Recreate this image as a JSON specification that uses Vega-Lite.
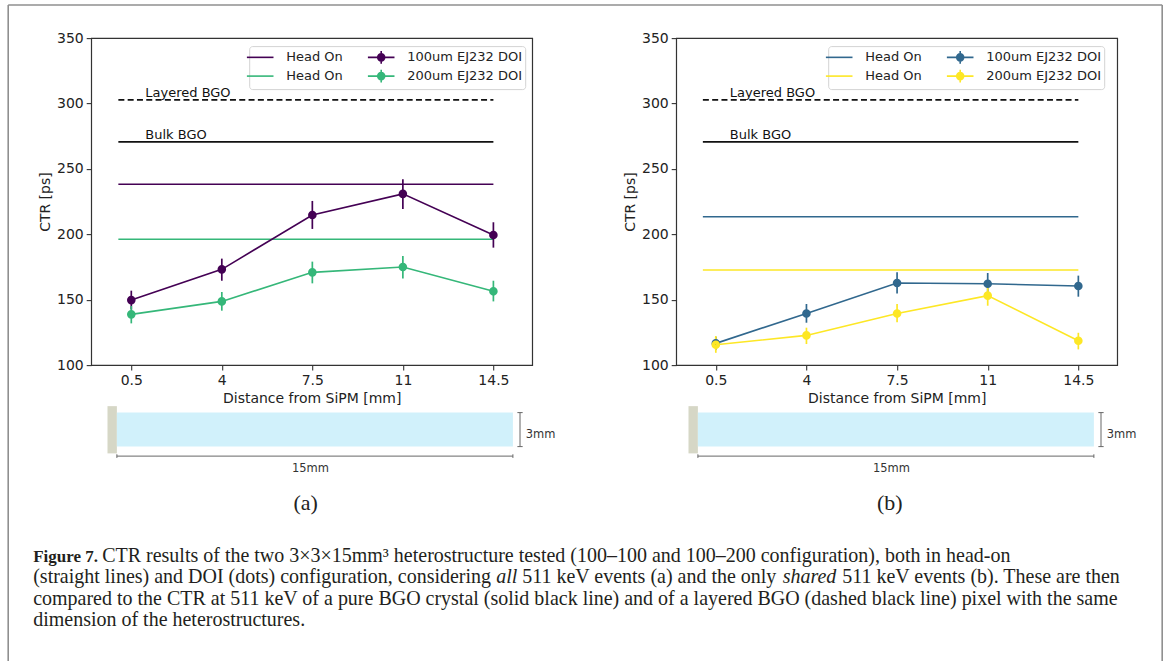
{
  "$schema": "https://vega.github.io/schema/vega-lite/v6.json",
  "background": "white",
  "padding": {"left": 7.2, "top": 4.1, "right": 0, "bottom": 0},
  "columns": 2,
  "align": "each",
  "bounds": "flush",
  "spacing": {"row": 30, "column": 144},
  "resolve": {
    "scale": {"color": "shared", "strokeDash": "shared", "fill": "shared"},
    "legend": {"color": "independent", "strokeDash": "independent"}
  },
  "datasets": {
    "bgo": [
      {"kind": "Layered BGO", "y": 302.8, "x0": 0, "x1": 14.5},
      {"kind": "Bulk BGO", "y": 270.7, "x0": 0, "x1": 14.5}
    ],
    "headonA": [
      {"series": "h1a", "y": 238.3, "x0": 0, "x1": 14.5},
      {"series": "h2a", "y": 196.2, "x0": 0, "x1": 14.5}
    ],
    "headonB": [
      {"series": "h1b", "y": 213.5, "x0": 0, "x1": 14.5},
      {"series": "h2b", "y": 172.7, "x0": 0, "x1": 14.5}
    ],
    "doiA": [
      {"series": "d1a", "x": 0.5, "y": 149.7, "lo": 142.6, "hi": 156.9},
      {"series": "d1a", "x": 4, "y": 173.2, "lo": 164.5, "hi": 181.4},
      {"series": "d1a", "x": 7.5, "y": 214.8, "lo": 204.1, "hi": 225.5},
      {"series": "d1a", "x": 11, "y": 230.9, "lo": 219.4, "hi": 242.1},
      {"series": "d1a", "x": 14.5, "y": 199.5, "lo": 189.8, "hi": 209.2},
      {"series": "d2a", "x": 0.5, "y": 138.8, "lo": 131.9, "hi": 145.2},
      {"series": "d2a", "x": 4, "y": 148.7, "lo": 141.6, "hi": 155.9},
      {"series": "d2a", "x": 7.5, "y": 170.9, "lo": 162.5, "hi": 179.1},
      {"series": "d2a", "x": 11, "y": 175.0, "lo": 166.3, "hi": 183.4},
      {"series": "d2a", "x": 14.5, "y": 156.4, "lo": 148.7, "hi": 164.5}
    ],
    "doiB": [
      {"series": "d1b", "x": 0.5, "y": 116.6, "lo": 111.5, "hi": 121.7},
      {"series": "d1b", "x": 4, "y": 139.5, "lo": 132.4, "hi": 146.7},
      {"series": "d1b", "x": 7.5, "y": 162.8, "lo": 154.8, "hi": 170.9},
      {"series": "d1b", "x": 11, "y": 162.2, "lo": 153.6, "hi": 170.4},
      {"series": "d1b", "x": 14.5, "y": 160.5, "lo": 152.3, "hi": 168.4},
      {"series": "d2b", "x": 0.5, "y": 115.6, "lo": 109.4, "hi": 122.2},
      {"series": "d2b", "x": 4, "y": 122.7, "lo": 116.1, "hi": 128.6},
      {"series": "d2b", "x": 7.5, "y": 139.5, "lo": 132.7, "hi": 146.7},
      {"series": "d2b", "x": 11, "y": 153.1, "lo": 145.4, "hi": 159.9},
      {"series": "d2b", "x": 14.5, "y": 118.6, "lo": 112.0, "hi": 124.7}
    ],
    "legendA": [{"series": "h1a"}, {"series": "h2a"}, {"series": "d1a"}, {"series": "d2a"}],
    "legendB": [{"series": "h1b"}, {"series": "h2b"}, {"series": "d1b"}, {"series": "d2b"}],
    "diagShapes": [
      {"part": "SiPM", "x0": -0.356, "x1": 0, "y0": -0.6, "y1": 3.57},
      {"part": "crystal", "x0": 0, "x1": 15, "y0": 0, "y1": 3}
    ],
    "diagLines": [
      {"x0": 0, "x1": 15, "y0": -0.84, "y1": -0.84},
      {"x0": 0, "x1": 0, "y0": -0.68, "y1": -1.0},
      {"x0": 15, "x1": 15, "y0": -0.68, "y1": -1.0},
      {"x0": 15.27, "x1": 15.27, "y0": 0, "y1": 3},
      {"x0": 15.17, "x1": 15.37, "y0": 0, "y1": 0},
      {"x0": 15.17, "x1": 15.37, "y0": 3, "y1": 3}
    ],
    "diagText": [
      {"label": "15mm", "x": 7.33, "y": -1.95},
      {"label": "3mm", "x": 16.05, "y": 1.0}
    ],
    "frame": [
      {"x0": 0, "x1": 0, "y0": -25.11, "y1": 5.9},
      {"x0": 100, "x1": 100, "y0": -25.11, "y1": 5.9},
      {"x0": 0, "x1": 100, "y0": -25.11, "y1": -25.11}
    ],
    "capRegular": [
      {"t": "CTR results of the two  3×3×15mm³ heterostructure tested (100–100 and 100–200 configuration), both in head-on", "x": 8.146, "line": 1},
      {"t": "(straight lines) and DOI (dots) configuration, considering", "x": 2.166, "line": 2},
      {"t": "511 keV events (a) and the only", "x": 44.54, "line": 2},
      {"t": "511 keV events (b). These are then", "x": 72.27, "line": 2},
      {"t": "compared to the CTR at 511 keV of a pure BGO crystal (solid black line) and of a layered BGO (dashed black line) pixel with the same", "x": 2.166, "line": 3},
      {"t": "dimension of the heterostructures.", "x": 2.166, "line": 4}
    ],
    "capBold": [
      {"t": "Figure 7.", "x": 2.166, "line": 1}
    ],
    "capItalic": [
      {"t": "all", "x": 42.29, "line": 2},
      {"t": "shared", "x": 67.11, "line": 2}
    ]
  },
  "concat": [
    {
      "width": 441,
      "height": 327,
      "view": {"stroke": "#333", "strokeWidth": 1.2},
      "layer": [
        {
          "data": {"name": "legendA"},
          "mark": {"type": "line", "opacity": 0},
          "encoding": {
            "x": {"datum": 7.5, "type": "quantitative", "title": "Distance from SiPM [mm]",
                  "scale": {"domain": [-1.05, 16.0], "nice": false, "zero": false},
                  "axis": {"values": [0.5, 4, 7.5, 11, 14.5], "format": ".3~g"}},
            "y": {"datum": 200, "type": "quantitative", "title": "CTR [ps]",
                  "scale": {"domain": [100, 350], "nice": false, "zero": false},
                  "axis": {"values": [100, 150, 200, 250, 300, 350]}},
            "color": {
              "field": "series", "type": "nominal",
              "scale": {"domain": ["h1a", "d1a", "h2a", "d2a", "h1b", "d1b", "h2b", "d2b"],
                        "range": ["#440154", "#440154", "#35b779", "#35b779", "#31688e", "#31688e", "#fde725", "#fde725"]},
              "legend": {"values": ["h1a", "h2a", "d1a", "d2a"], "title": null, "orient": "none", "legendX": 158, "legendY": 8, "columns": 2,
                "labelExpr": "substring(datum.value,0,1) == 'h' ? 'Head On' : (substring(datum.value,1,2) == '1' ? '100um EJ232 DOI' : '200um EJ232 DOI')",
                "symbolType": "M-1.9,0L1.9,0L0.5,0A0.5,0.5,0,1,1,-0.5,0A0.5,0.5,0,1,1,0.5,0L0.33,0A0.33,0.33,0,1,1,-0.33,0A0.33,0.33,0,1,1,0.33,0L0.17,0A0.17,0.17,0,1,1,-0.17,0A0.17,0.17,0,1,1,0.17,0L0,0L0,-0.9L0,0.9",
                "symbolSize": 196, "symbolStrokeWidth": 1.6, "symbolOpacity": 1, "symbolFillColor": "transparent",
                "labelOffset": 18, "columnPadding": 21, "rowPadding": -1, "padding": 3,
                "strokeColor": "#d3d3d3", "fillColor": "#ffffff", "cornerRadius": 3,
                "labelFont": "DejaVu Sans", "labelFontSize": 13, "labelColor": "#222"}
            },
            "strokeDash": {
              "field": "series", "type": "nominal",
              "scale": {"domain": ["h1a", "d1a", "h2a", "d2a", "h1b", "d1b", "h2b", "d2b"],
                        "range": [[26.6, 3000], [3000, 1], [26.6, 3000], [3000, 1], [26.6, 3000], [3000, 1], [26.6, 3000], [3000, 1]]},
              "legend": {"values": ["h1a", "h2a", "d1a", "d2a"], "title": null, "orient": "none", "legendX": 158, "legendY": 8, "columns": 2,
                "labelExpr": "substring(datum.value,0,1) == 'h' ? 'Head On' : (substring(datum.value,1,2) == '1' ? '100um EJ232 DOI' : '200um EJ232 DOI')",
                "symbolType": "M-1.9,0L1.9,0L0.5,0A0.5,0.5,0,1,1,-0.5,0A0.5,0.5,0,1,1,0.5,0L0.33,0A0.33,0.33,0,1,1,-0.33,0A0.33,0.33,0,1,1,0.33,0L0.17,0A0.17,0.17,0,1,1,-0.17,0A0.17,0.17,0,1,1,0.17,0L0,0L0,-0.9L0,0.9",
                "symbolSize": 196, "symbolStrokeWidth": 1.6, "symbolOpacity": 1, "symbolFillColor": "transparent",
                "labelOffset": 18, "columnPadding": 21, "rowPadding": -1, "padding": 3,
                "strokeColor": "#d3d3d3", "fillColor": "#ffffff", "cornerRadius": 3,
                "labelFont": "DejaVu Sans", "labelFontSize": 13, "labelColor": "#222"}
            }
          }
        },
        {
          "data": {"name": "bgo"},
          "transform": [{"filter": "datum.kind == 'Layered BGO'"}],
          "mark": {"type": "rule", "color": "#111", "strokeWidth": 1.8, "strokeDash": [6, 3.3]},
          "encoding": {
            "x": {"field": "x0", "type": "quantitative", "title": "Distance from SiPM [mm]"},
            "x2": {"field": "x1"},
            "y": {"field": "y", "type": "quantitative", "title": "CTR [ps]"}
          }
        },
        {
          "data": {"name": "bgo"},
          "transform": [{"filter": "datum.kind == 'Bulk BGO'"}],
          "mark": {"type": "rule", "color": "#111", "strokeWidth": 1.8},
          "encoding": {
            "x": {"field": "x0", "type": "quantitative", "title": "Distance from SiPM [mm]"},
            "x2": {"field": "x1"},
            "y": {"field": "y", "type": "quantitative", "title": "CTR [ps]"}
          }
        },
        {
          "data": {"name": "bgo"},
          "mark": {"type": "text", "align": "left", "baseline": "bottom", "dx": 27, "font": "DejaVu Sans", "fontSize": 13, "color": "#111"},
          "encoding": {
            "x": {"field": "x0", "type": "quantitative", "title": "Distance from SiPM [mm]"},
            "y": {"field": "y", "type": "quantitative", "title": "CTR [ps]"},
            "text": {"field": "kind"}
          }
        },
        {
          "data": {"name": "headonA"},
          "mark": {"type": "rule", "strokeWidth": 1.5},
          "encoding": {
            "x": {"field": "x0", "type": "quantitative", "title": "Distance from SiPM [mm]"},
            "x2": {"field": "x1"},
            "y": {"field": "y", "type": "quantitative", "title": "CTR [ps]"},
            "color": {"field": "series", "type": "nominal"}
          }
        },
        {
          "data": {"name": "doiA"},
          "mark": {"type": "line", "strokeWidth": 1.6},
          "encoding": {
            "x": {"field": "x", "type": "quantitative", "title": "Distance from SiPM [mm]"},
            "y": {"field": "y", "type": "quantitative", "title": "CTR [ps]"},
            "color": {"field": "series", "type": "nominal"}
          }
        },
        {
          "data": {"name": "doiA"},
          "mark": {"type": "rule", "strokeWidth": 1.7},
          "encoding": {
            "x": {"field": "x", "type": "quantitative", "title": "Distance from SiPM [mm]"},
            "y": {"field": "lo", "type": "quantitative", "title": "CTR [ps]"},
            "y2": {"field": "hi"},
            "color": {"field": "series", "type": "nominal"}
          }
        },
        {
          "data": {"name": "doiA"},
          "mark": {"type": "point", "filled": false, "size": 16, "strokeWidth": 4.6, "opacity": 1, "shape": "circle"},
          "encoding": {
            "x": {"field": "x", "type": "quantitative", "title": "Distance from SiPM [mm]"},
            "y": {"field": "y", "type": "quantitative", "title": "CTR [ps]"},
            "color": {"field": "series", "type": "nominal"}
          }
        }
      ]
    },
    {
      "width": 441,
      "height": 327,
      "view": {"stroke": "#333", "strokeWidth": 1.2},
      "layer": [
        {
          "data": {"name": "legendB"},
          "mark": {"type": "line", "opacity": 0},
          "encoding": {
            "x": {"datum": 7.5, "type": "quantitative", "title": "Distance from SiPM [mm]",
                  "scale": {"domain": [-1.03, 16.0], "nice": false, "zero": false},
                  "axis": {"values": [0.5, 4, 7.5, 11, 14.5], "format": ".3~g"}},
            "y": {"datum": 200, "type": "quantitative", "title": "CTR [ps]",
                  "scale": {"domain": [100, 350], "nice": false, "zero": false},
                  "axis": {"values": [100, 150, 200, 250, 300, 350]}},
            "color": {
              "field": "series", "type": "nominal",
              "legend": {"values": ["h1b", "h2b", "d1b", "d2b"], "title": null, "orient": "none", "legendX": 152, "legendY": 8, "columns": 2,
                "labelExpr": "substring(datum.value,0,1) == 'h' ? 'Head On' : (substring(datum.value,1,2) == '1' ? '100um EJ232 DOI' : '200um EJ232 DOI')",
                "symbolType": "M-1.9,0L1.9,0L0.5,0A0.5,0.5,0,1,1,-0.5,0A0.5,0.5,0,1,1,0.5,0L0.33,0A0.33,0.33,0,1,1,-0.33,0A0.33,0.33,0,1,1,0.33,0L0.17,0A0.17,0.17,0,1,1,-0.17,0A0.17,0.17,0,1,1,0.17,0L0,0L0,-0.9L0,0.9",
                "symbolSize": 196, "symbolStrokeWidth": 1.6, "symbolOpacity": 1, "symbolFillColor": "transparent",
                "labelOffset": 18, "columnPadding": 21, "rowPadding": -1, "padding": 3,
                "strokeColor": "#d3d3d3", "fillColor": "#ffffff", "cornerRadius": 3,
                "labelFont": "DejaVu Sans", "labelFontSize": 13, "labelColor": "#222"}
            },
            "strokeDash": {
              "field": "series", "type": "nominal",
              "legend": {"values": ["h1b", "h2b", "d1b", "d2b"], "title": null, "orient": "none", "legendX": 152, "legendY": 8, "columns": 2,
                "labelExpr": "substring(datum.value,0,1) == 'h' ? 'Head On' : (substring(datum.value,1,2) == '1' ? '100um EJ232 DOI' : '200um EJ232 DOI')",
                "symbolType": "M-1.9,0L1.9,0L0.5,0A0.5,0.5,0,1,1,-0.5,0A0.5,0.5,0,1,1,0.5,0L0.33,0A0.33,0.33,0,1,1,-0.33,0A0.33,0.33,0,1,1,0.33,0L0.17,0A0.17,0.17,0,1,1,-0.17,0A0.17,0.17,0,1,1,0.17,0L0,0L0,-0.9L0,0.9",
                "symbolSize": 196, "symbolStrokeWidth": 1.6, "symbolOpacity": 1, "symbolFillColor": "transparent",
                "labelOffset": 18, "columnPadding": 21, "rowPadding": -1, "padding": 3,
                "strokeColor": "#d3d3d3", "fillColor": "#ffffff", "cornerRadius": 3,
                "labelFont": "DejaVu Sans", "labelFontSize": 13, "labelColor": "#222"}
            }
          }
        },
        {
          "data": {"name": "bgo"},
          "transform": [{"filter": "datum.kind == 'Layered BGO'"}],
          "mark": {"type": "rule", "color": "#111", "strokeWidth": 1.8, "strokeDash": [6, 3.3]},
          "encoding": {
            "x": {"field": "x0", "type": "quantitative", "title": "Distance from SiPM [mm]"},
            "x2": {"field": "x1"},
            "y": {"field": "y", "type": "quantitative", "title": "CTR [ps]"}
          }
        },
        {
          "data": {"name": "bgo"},
          "transform": [{"filter": "datum.kind == 'Bulk BGO'"}],
          "mark": {"type": "rule", "color": "#111", "strokeWidth": 1.8},
          "encoding": {
            "x": {"field": "x0", "type": "quantitative", "title": "Distance from SiPM [mm]"},
            "x2": {"field": "x1"},
            "y": {"field": "y", "type": "quantitative", "title": "CTR [ps]"}
          }
        },
        {
          "data": {"name": "bgo"},
          "mark": {"type": "text", "align": "left", "baseline": "bottom", "dx": 27, "font": "DejaVu Sans", "fontSize": 13, "color": "#111"},
          "encoding": {
            "x": {"field": "x0", "type": "quantitative", "title": "Distance from SiPM [mm]"},
            "y": {"field": "y", "type": "quantitative", "title": "CTR [ps]"},
            "text": {"field": "kind"}
          }
        },
        {
          "data": {"name": "headonB"},
          "mark": {"type": "rule", "strokeWidth": 1.5},
          "encoding": {
            "x": {"field": "x0", "type": "quantitative", "title": "Distance from SiPM [mm]"},
            "x2": {"field": "x1"},
            "y": {"field": "y", "type": "quantitative", "title": "CTR [ps]"},
            "color": {"field": "series", "type": "nominal"}
          }
        },
        {
          "data": {"name": "doiB"},
          "mark": {"type": "line", "strokeWidth": 1.6},
          "encoding": {
            "x": {"field": "x", "type": "quantitative", "title": "Distance from SiPM [mm]"},
            "y": {"field": "y", "type": "quantitative", "title": "CTR [ps]"},
            "color": {"field": "series", "type": "nominal"}
          }
        },
        {
          "data": {"name": "doiB"},
          "mark": {"type": "rule", "strokeWidth": 1.7},
          "encoding": {
            "x": {"field": "x", "type": "quantitative", "title": "Distance from SiPM [mm]"},
            "y": {"field": "lo", "type": "quantitative", "title": "CTR [ps]"},
            "y2": {"field": "hi"},
            "color": {"field": "series", "type": "nominal"}
          }
        },
        {
          "data": {"name": "doiB"},
          "mark": {"type": "point", "filled": false, "size": 16, "strokeWidth": 4.6, "opacity": 1, "shape": "circle"},
          "encoding": {
            "x": {"field": "x", "type": "quantitative", "title": "Distance from SiPM [mm]"},
            "y": {"field": "y", "type": "quantitative", "title": "CTR [ps]"},
            "color": {"field": "series", "type": "nominal"}
          }
        }
      ]
    },
    {
      "width": 441,
      "height": 90,
      "view": {"stroke": null},
      "title": {"text": "(a)", "orient": "bottom", "frame": "group", "anchor": "middle", "offset": 8, "dx": -6, "font": "Liberation Serif", "fontSize": 22, "fontWeight": "normal", "color": "#222"},
      "layer": [
        {
          "data": {"name": "diagShapes"},
          "mark": {"type": "rect"},
          "encoding": {
            "x": {"field": "x0", "type": "quantitative", "scale": {"domain": [-0.973, 15.731], "nice": false, "zero": false}, "axis": null},
            "x2": {"field": "x1"},
            "y": {"field": "y0", "type": "quantitative", "scale": {"domain": [-3.398, 4.545], "nice": false, "zero": false}, "axis": null},
            "y2": {"field": "y1"},
            "fill": {"field": "part", "type": "nominal", "scale": {"domain": ["SiPM", "crystal"], "range": ["#d6d7c6", "#d1f1fb"]}, "legend": null}
          }
        },
        {
          "data": {"name": "diagLines"},
          "mark": {"type": "rule", "color": "#666", "strokeWidth": 1},
          "encoding": {
            "x": {"field": "x0", "type": "quantitative"},
            "x2": {"field": "x1"},
            "y": {"field": "y0", "type": "quantitative"},
            "y2": {"field": "y1"}
          }
        },
        {
          "data": {"name": "diagText"},
          "mark": {"type": "text", "align": "center", "baseline": "middle", "font": "DejaVu Sans", "fontSize": 11.5, "color": "#333"},
          "encoding": {
            "x": {"field": "x", "type": "quantitative"},
            "y": {"field": "y", "type": "quantitative"},
            "text": {"field": "label"}
          }
        }
      ]
    },
    {
      "width": 441,
      "height": 90,
      "view": {"stroke": null},
      "title": {"text": "(b)", "orient": "bottom", "frame": "group", "anchor": "middle", "offset": 8, "dx": -7, "font": "Liberation Serif", "fontSize": 22, "fontWeight": "normal", "color": "#222"},
      "layer": [
        {
          "data": {"name": "diagShapes"},
          "mark": {"type": "rect"},
          "encoding": {
            "x": {"field": "x0", "type": "quantitative", "scale": {"domain": [-0.822, 15.883], "nice": false, "zero": false}, "axis": null},
            "x2": {"field": "x1"},
            "y": {"field": "y0", "type": "quantitative", "scale": {"domain": [-3.398, 4.545], "nice": false, "zero": false}, "axis": null},
            "y2": {"field": "y1"},
            "fill": {"field": "part", "type": "nominal", "legend": null}
          }
        },
        {
          "data": {"name": "diagLines"},
          "mark": {"type": "rule", "color": "#666", "strokeWidth": 1},
          "encoding": {
            "x": {"field": "x0", "type": "quantitative"},
            "x2": {"field": "x1"},
            "y": {"field": "y0", "type": "quantitative"},
            "y2": {"field": "y1"}
          }
        },
        {
          "data": {"name": "diagText"},
          "mark": {"type": "text", "align": "center", "baseline": "middle", "font": "DejaVu Sans", "fontSize": 11.5, "color": "#333"},
          "encoding": {
            "x": {"field": "x", "type": "quantitative"},
            "y": {"field": "y", "type": "quantitative"},
            "text": {"field": "label"}
          }
        }
      ]
    },
    {
      "width": 441,
      "height": 128,
      "view": {"stroke": null},
      "layer": [
        {
          "data": {"name": "frame"},
          "mark": {"type": "rule", "color": "#8f8f8f", "strokeWidth": 1.6},
          "encoding": {
            "x": {"field": "x0", "type": "quantitative", "scale": {"domain": [0, 100], "range": [-83, 1071], "nice": false, "zero": false}, "axis": null},
            "x2": {"field": "x1"},
            "y": {"field": "y0", "type": "quantitative", "scale": {"domain": [-1.2, 4.8], "range": [0, 128], "nice": false, "zero": false}, "axis": null},
            "y2": {"field": "y1"}
          }
        },
        {
          "data": {"name": "capRegular"},
          "mark": {"type": "text", "align": "left", "baseline": "alphabetic", "font": "Liberation Serif", "fontSize": 20, "color": "#231f20"},
          "encoding": {
            "x": {"field": "x", "type": "quantitative"},
            "y": {"field": "line", "type": "quantitative"},
            "text": {"field": "t"}
          }
        },
        {
          "data": {"name": "capBold"},
          "mark": {"type": "text", "align": "left", "baseline": "alphabetic", "font": "Liberation Serif", "fontSize": 17, "fontWeight": "bold", "color": "#231f20"},
          "encoding": {
            "x": {"field": "x", "type": "quantitative"},
            "y": {"field": "line", "type": "quantitative"},
            "text": {"field": "t"}
          }
        },
        {
          "data": {"name": "capItalic"},
          "mark": {"type": "text", "align": "left", "baseline": "alphabetic", "font": "Liberation Serif", "fontSize": 20, "fontStyle": "italic", "color": "#231f20"},
          "encoding": {
            "x": {"field": "x", "type": "quantitative"},
            "y": {"field": "line", "type": "quantitative"},
            "text": {"field": "t"}
          }
        }
      ]
    }
  ],
  "config": {
    "view": {"stroke": null},
    "font": "DejaVu Sans",
    "axis": {
      "domain": false, "grid": false, "ticks": true,
      "tickColor": "#333", "tickSize": 5, "tickWidth": 1.1,
      "labelFont": "DejaVu Sans", "labelFontSize": 14, "labelColor": "#222", "labelPadding": 3, "labelFlush": false,
      "titleFont": "DejaVu Sans", "titleFontSize": 14, "titleFontWeight": "normal", "titleColor": "#222", "titlePadding": 4
    }
  }
}
